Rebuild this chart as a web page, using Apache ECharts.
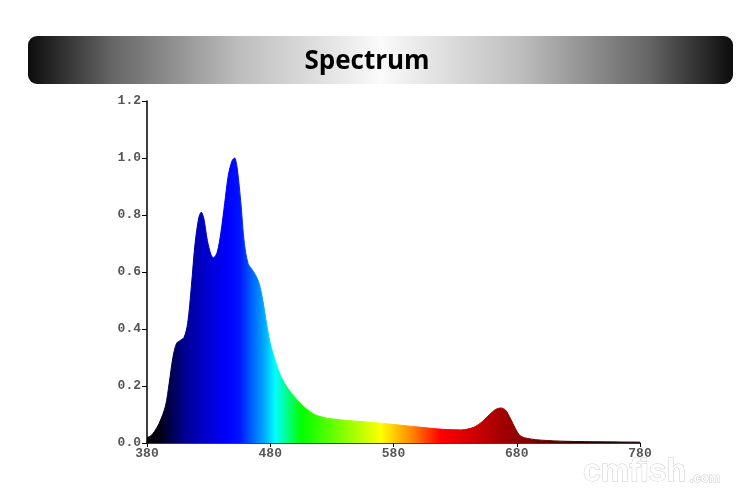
<!DOCTYPE html>
<html><head><meta charset="utf-8">
<script src="https://cdn.jsdelivr.net/npm/echarts@6/dist/echarts.min.js"></script>
<style>html,body{margin:0;padding:0;background:#fff}#c{width:755px;height:494px}</style>
</head><body><div id="c"></div>
<script>
const wavelengths = [380,383,386,390,395,398,401,404,407,410,413,416,419,422,424,426,429,432,434,437,440,443,446,449,451,453,456,459,462,465,468,471,474,477,480,484,488,493,500,508,516,525,540,560,580,600,620,635,645,652,658,663,667,671,675,679,683,690,700,720,750,780];
const intensity = [0.02,0.025,0.04,0.07,0.13,0.21,0.30,0.35,0.36,0.37,0.42,0.55,0.70,0.79,0.81,0.79,0.71,0.66,0.65,0.67,0.74,0.84,0.94,0.99,1.00,0.97,0.85,0.70,0.63,0.61,0.59,0.56,0.50,0.42,0.35,0.29,0.24,0.20,0.16,0.125,0.10,0.088,0.08,0.073,0.065,0.056,0.048,0.046,0.055,0.075,0.10,0.118,0.123,0.115,0.085,0.05,0.025,0.015,0.01,0.006,0.004,0.003];
const xTicks = [380,480,580,680,780];
const yTicks = [0,0.2,0.4,0.6,0.8,1.0,1.2];
const titleText = 'Spectrum';

const spectrumStops = [
  [380,'#000000'],[390,'#000012'],[400,'#000050'],[410,'#000090'],[425,'#0000c4'],
  [445,'#0000ff'],[455,'#0014ff'],[465,'#0060ff'],[475,'#00a8ff'],[484,'#00ffff'],
  [505,'#00ff00'],[530,'#60ff00'],[550,'#b0ff00'],[570,'#ffff00'],[596,'#ff8000'],
  [618,'#ff0000'],[645,'#d00000'],[665,'#a80000'],[690,'#800000'],[730,'#300000'],[780,'#100000']
];
const grad = new echarts.graphic.LinearGradient(0,0,1,0,
  spectrumStops.map(s=>({offset:(s[0]-380)/400,color:s[1]})));

const chart = echarts.init(document.getElementById('c'));
chart.setOption({
  animation:false,
  grid:{left:147,right:115,top:101,bottom:51},
  xAxis:{type:'value',min:xTicks[0],max:xTicks[xTicks.length-1],interval:100,
    axisLine:{lineStyle:{color:'#000',width:1.5}},
    axisTick:{show:true,length:4,lineStyle:{color:'#000'}},
    axisLabel:{fontFamily:'Liberation Mono',fontSize:13,color:'#555',margin:4,fontWeight:'bold'},
    splitLine:{show:false}},
  yAxis:{type:'value',min:yTicks[0],max:yTicks[yTicks.length-1],interval:0.2,
    axisLine:{show:true,lineStyle:{color:'#000',width:1.5}},
    axisTick:{show:true,length:5,lineStyle:{color:'#000'}},
    axisLabel:{fontFamily:'Liberation Mono',fontSize:13,color:'#555',margin:6,fontWeight:'bold',
      formatter:v=>v.toFixed(1)},
    splitLine:{show:false}},
  series:[{type:'line',data:wavelengths.map((w,i)=>[w,intensity[i]]),
    smooth:0.3,showSymbol:false,
    lineStyle:{width:1,color:grad},
    areaStyle:{color:grad,opacity:1}}],
  graphic:[
    {type:'rect',shape:{x:28,y:36,width:705,height:48,r:9},
      style:{fill:new echarts.graphic.LinearGradient(0,0,1,0,[
        {offset:0,color:'#0c0c0c'},{offset:0.12,color:'#666'},{offset:0.3,color:'#bdbdbd'},
        {offset:0.5,color:'#fafafa'},{offset:0.7,color:'#bdbdbd'},{offset:0.88,color:'#666'},
        {offset:1,color:'#0c0c0c'}])}},
    {type:'text',x:367,y:62,style:{text:titleText,fontFamily:'Open Sans',fontWeight:'bold',
      fontSize:26,fill:'#000',align:'center',verticalAlign:'middle'}},
    {type:'text',x:583,y:472,style:{text:'cmfish',fontFamily:'Liberation Sans',fontWeight:'bold',
      fontSize:32,fill:'#fff',stroke:'#ccc',lineWidth:1,verticalAlign:'middle'}},
    {type:'text',x:690,y:478,style:{text:'.com',fontFamily:'Liberation Sans',fontWeight:'bold',
      fontSize:13,fill:'#fff',stroke:'#ccc',lineWidth:1,verticalAlign:'middle'}}
  ]
});
</script></body></html>
